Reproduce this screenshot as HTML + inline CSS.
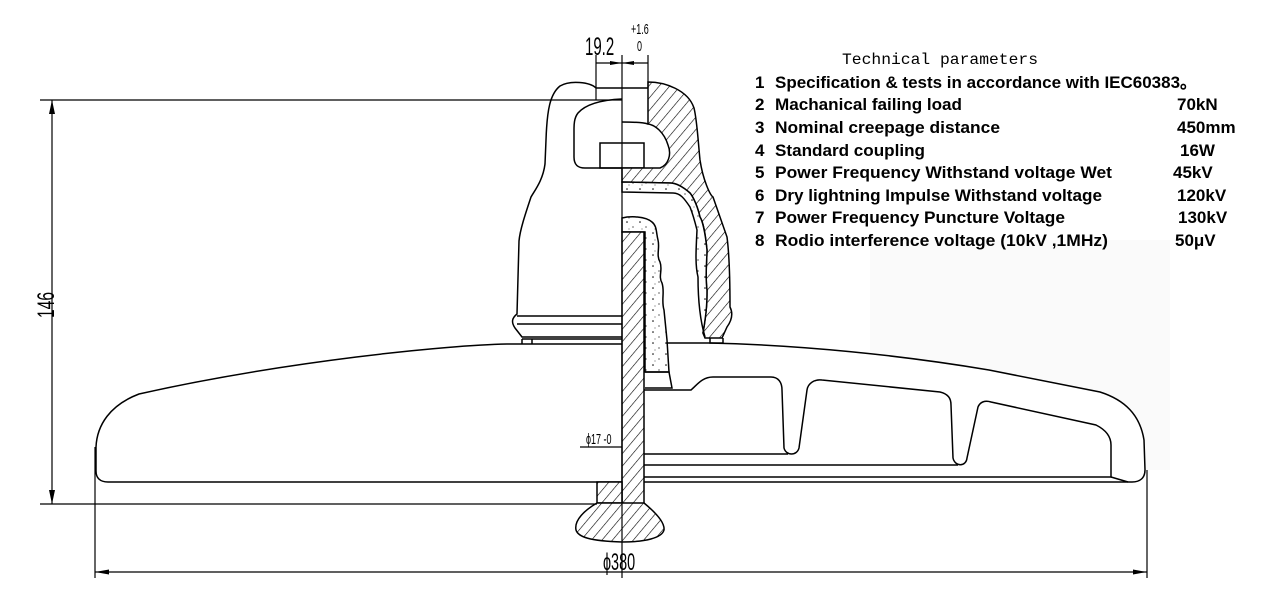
<!DOCTYPE html>
<html><head><meta charset="utf-8"><style>
html,body{margin:0;padding:0;background:#fff;width:1270px;height:614px;overflow:hidden}
svg{display:block}
.t{font-family:"Liberation Sans",Arial,sans-serif;font-weight:bold;font-size:17px;fill:#000}
.n{font-family:"Liberation Sans",Arial,sans-serif;fill:#000}
</style></head><body>
<svg width="1270" height="614" viewBox="0 0 1270 614" xmlns="http://www.w3.org/2000/svg">
<defs>
<pattern id="h" patternUnits="userSpaceOnUse" width="8" height="8" patternTransform="rotate(40)">
<rect width="8" height="8" fill="#fff"/><line x1="0" y1="0" x2="0" y2="8" stroke="#000" stroke-width="1.2"/>
</pattern>
<pattern id="d" patternUnits="userSpaceOnUse" width="13" height="11">
<rect width="13" height="11" fill="#fff"/><circle cx="3" cy="2" r="0.8" fill="#000"/><circle cx="9" cy="7" r="0.6" fill="#000"/><circle cx="5" cy="9" r="0.5" fill="#222"/>
</pattern>
</defs>
<rect x="870" y="240" width="300" height="230" fill="#fafafa"/>
<g fill="none" stroke="#000" stroke-width="1.5">
<path d="M622,344 L507,344 C449,345 286,361 139,394 C110,405 97,425 96,447 L96,471 C96,478 100,482 108,482 L622,482" fill="#fff"/>
<path d="M622,343 L709,343 C800,345 900,355 989,370 L1100,392 C1125,400 1140,415 1144,440 L1145,470 C1145,478 1140,482 1132,482 L644,482" fill="#fff"/>
<path d="M644,390 L691,390 C697,385 702,377 713,377 L771,377 C778,377 782,382 782,390 L784,448 C786,456 797,456 799,448 L807,390 C808,383 815,379 822,380 L940,392 C948,394 951,398 951,405 L953,458 C955,467 966,467 967,458 L978,407 C980,402 985,400 991,402 L1096,425 C1106,430 1111,437 1111,445 L1111,477 L644,477"/>
<path d="M644,454 L788,454 M644,465 L958,465 M1111,477 L1128,482"/>
<path d="M596,88 C590,82 570,80 560,86 C550,94 547,110 546,140 L545,164 C543,180 535,190 531,197 C525,215 520,230 519,241 L517,314 C512,318 511,322 515,328 L522,337 L622,337" fill="#fff"/>
<path d="M517,316 L622,316 M517,324 L622,324 M522,339 L622,339 M522,339 L522,344 M532,339 L532,344"/>
<path d="M622,99 C600,100 585,105 578,113 C574,118 574,125 574,130 L574,157 C574,165 578,168 585,168 L622,168"/>
<rect x="600" y="143" width="44" height="25"/>
<path d="M648,82 C665,82 688,90 694,108 C697,120 698,140 700,160 C703,180 710,195 713,197 L727,237 C730,260 730,290 730,307 C733,313 732,320 727,327 L722,338 L705,338 L703,333 C707,310 707,300 707,290 C705,275 707,260 707,250 C705,230 702,220 700,217 C696,200 690,193 690,193 C682,186 675,183 670,183 L622,182 L622,168 L660,168 C668,165 672,155 668,145 C664,132 655,125 648,124 Z" fill="url(#h)"/>
<path d="M622,122 C635,122 645,123 648,124 M596,88 L648,88"/>
<path d="M710,338 L710,343 L723,343 L723,338"/>
<path d="M622,182 L670,183 C675,183 682,186 690,193 C690,193 696,200 700,217 C702,220 705,230 707,250 C707,260 705,275 707,290 C707,300 707,310 703,333 L705,337 C700,320 698,300 698,277 C695,265 696,250 697,230 C694,218 692,212 690,207 C684,198 680,193 673,193 L622,192 Z" fill="url(#d)"/>
<path d="M622,218 C630,216 645,216 652,222 C657,226 656,232 658,240 C660,248 656,255 660,262 C663,270 658,276 662,283 C665,292 661,300 664,310 L667,340 L669,372 L645,372 L645,232 L622,232 Z" fill="url(#d)"/>
<path d="M645,372 L669,372 L672,388 L645,388"/>
<rect x="622" y="232" width="22" height="272" fill="url(#h)"/>
<rect x="597" y="482" width="25" height="21" fill="url(#h)"/>
<path d="M597,503 C585,510 574,520 576,530 C578,537 590,541 622,542 C645,542 662,538 664,530 C665,522 655,512 644,503 Z" fill="url(#h)"/>
</g>
<g fill="none" stroke="#000" stroke-width="1.2">
<path d="M622,55 L622,578"/>
<path d="M40,100 L622,100 M40,504 L597,504 M52,100 L52,504"/>
<path d="M95,447 L95,578 M1147,470 L1147,578 M95,572 L1147,572"/>
<path d="M596,55 L596,100 M648,55 L648,88 M596,63 L648,63"/>
<path d="M580,447 L622,447"/>
</g>
<g fill="#000">
<path d="M52,100 L49,114 L55,114 Z M52,504 L49,490 L55,490 Z"/>
<path d="M95,572 L109,569.5 L109,574.5 Z M1147,572 L1133,569.5 L1133,574.5 Z"/>
<path d="M622,63 L610,61 L610,65 Z M622,63 L634,61 L634,65 Z"/>
</g>
<text class="n" transform="translate(54,318) rotate(-90) scale(0.65,1)" font-size="24">146</text>
<text class="n" transform="translate(603,570) scale(0.6,1)" font-size="24">ϕ380</text>
<text class="n" transform="translate(585,55) scale(0.6,1)" font-size="25">19.2</text>
<text class="n" transform="translate(631,34) scale(0.6,1)" font-size="15">+1.6</text>
<text class="n" transform="translate(637,51) scale(0.6,1)" font-size="15">0</text>
<text class="n" transform="translate(586,444) scale(0.6,1)" font-size="15">ϕ17 -0</text>
<text x="842" y="64" font-family="Liberation Mono,monospace" font-size="16" textLength="196" lengthAdjust="spacingAndGlyphs" fill="#000">Technical parameters</text>
<g class="t">
<text x="755" y="88">1</text><text x="775" y="88" textLength="422" lengthAdjust="spacingAndGlyphs">Specification &amp; tests in accordance with IEC60383。</text>
<text x="755" y="110">2</text><text x="775" y="110" textLength="187" lengthAdjust="spacingAndGlyphs">Machanical failing load</text><text x="1177" y="110">70kN</text>
<text x="755" y="133">3</text><text x="775" y="133" textLength="225" lengthAdjust="spacingAndGlyphs">Nominal creepage distance</text><text x="1177" y="133">450mm</text>
<text x="755" y="156">4</text><text x="775" y="156" textLength="150" lengthAdjust="spacingAndGlyphs">Standard coupling</text><text x="1180" y="156">16W</text>
<text x="755" y="178">5</text><text x="775" y="178" textLength="337" lengthAdjust="spacingAndGlyphs">Power Frequency Withstand voltage Wet</text><text x="1173" y="178">45kV</text>
<text x="755" y="201">6</text><text x="775" y="201" textLength="327" lengthAdjust="spacingAndGlyphs">Dry lightning Impulse Withstand voltage</text><text x="1177" y="201">120kV</text>
<text x="755" y="223">7</text><text x="775" y="223" textLength="290" lengthAdjust="spacingAndGlyphs">Power Frequency Puncture Voltage</text><text x="1178" y="223">130kV</text>
<text x="755" y="246">8</text><text x="775" y="246" textLength="333" lengthAdjust="spacingAndGlyphs">Rodio interference voltage (10kV ,1MHz)</text><text x="1175" y="246">50μV</text>
</g>
</svg>
</body></html>
